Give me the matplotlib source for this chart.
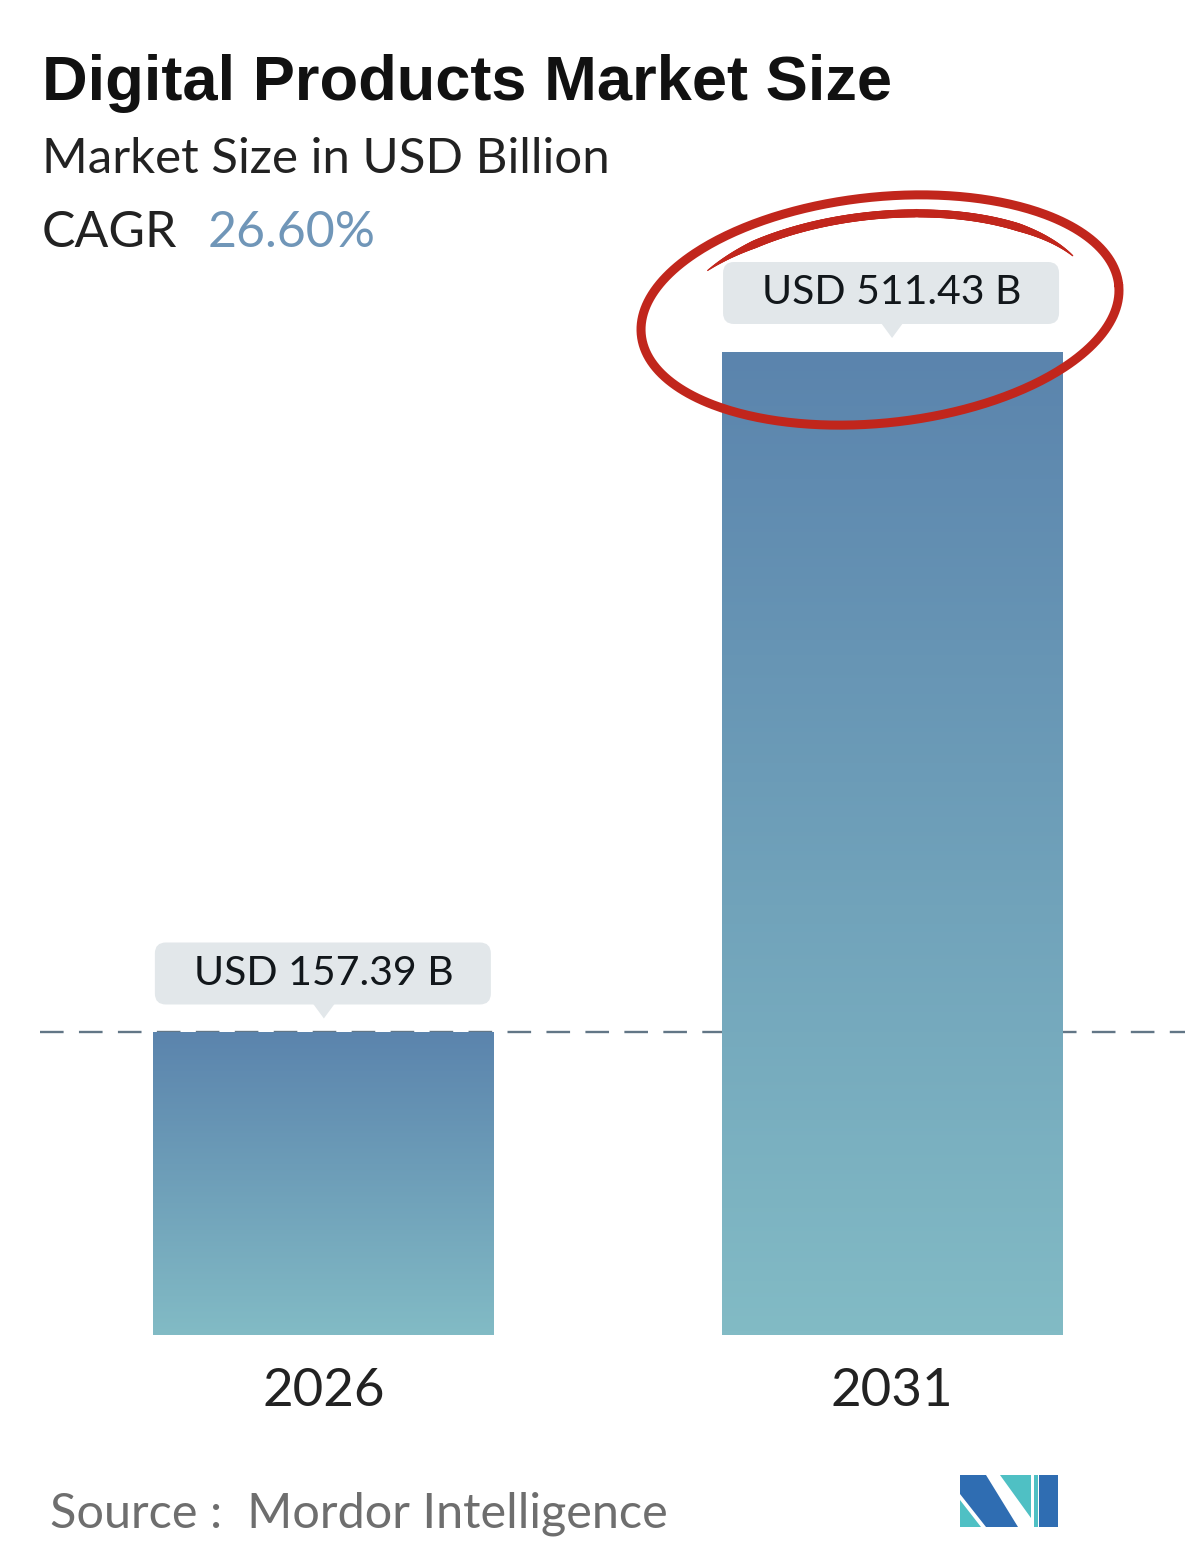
import numpy as np
import matplotlib.pyplot as plt
from matplotlib.patches import FancyBboxPatch, Polygon
from matplotlib.collections import LineCollection
from matplotlib.colors import LinearSegmentedColormap
from matplotlib.transforms import IdentityTransform

# chart data
years = ["2026", "2031"]
values = [157.39, 511.43]
value_labels = ["USD 157.39 B", "USD 511.43 B"]
title = "Digital Products Market Size"
subtitle = "Market Size in USD Billion"
cagr_label = "CAGR"
cagr_value = "26.60%"
source = "Source :  Mordor Intelligence"

W, H = 1200, 1565
BODY = ["Lato", "DejaVu Sans"]
TITLE_FONT = ["Liberation Sans", "DejaVu Sans"]

fig = plt.figure(figsize=(W / 100, H / 100), dpi=100)
ident = IdentityTransform()


def fx(px):
    return px / W


def fy(py):
    return 1 - py / H


# bars: baseline at 1335 px, tallest bar top at 352 px
ax = fig.add_axes([0, fy(1335), 1, (1335 - 250) / H])
x = np.arange(len(years))
bars = ax.bar(x, values, width=0.6, color="none", zorder=2)
cmap = LinearSegmentedColormap.from_list("bar", ["#82bbc5", "#5b84ad"])
grad = np.linspace(0, 1, 256).reshape(-1, 1)
for b in bars:
    x0, w, h = b.get_x(), b.get_width(), b.get_height()
    im = ax.imshow(grad, cmap=cmap, origin="lower", aspect="auto",
                   extent=(x0, x0 + w, 0, h), zorder=2)
    im.set_clip_path(b)

ax.set_xlim(-0.570, 1.542)
ax.set_ylim(0, max(values) * 1085 / 983)
ax.axis("off")

# dashed reference line at the first value
ax.hlines(values[0], -0.50, 1.516, colors="#627686", linewidth=1.7,
          linestyles=(0, (10, 6.5)), zorder=1)

# tooltip boxes above the bars
for xi, v, lab in zip(x, values, value_labels):
    cx, top = ax.transData.transform((xi, v))
    bottom = top + 28
    box = FancyBboxPatch((cx - 169, bottom), 336, 62,
                         boxstyle="round,pad=0,rounding_size=11",
                         facecolor="#e2e7ea", edgecolor="none",
                         transform=ident, clip_on=False, zorder=3)
    fig.add_artist(box)
    tri = Polygon([(cx - 11, bottom + 1), (cx + 11, bottom + 1), (cx, top + 14)],
                  closed=True, facecolor="#e2e7ea", edgecolor="none",
                  transform=ident, zorder=3)
    fig.add_artist(tri)
    fig.text(cx, bottom + 31, lab, transform=ident, ha="center", va="center",
             fontsize=29.5, color="#12171b", family=BODY, zorder=4)

# year labels
for xi, yr in zip(x, years):
    cx, _ = ax.transData.transform((xi, 0))
    fig.text(fx(cx), fy(1406), yr, ha="center", va="baseline",
             fontsize=38, color="#222222", family=BODY)

# hand-drawn red loop round the larger value: closed outer ellipse
# plus a second, tapered stroke across the top
cx_e, cy_e = 880, H - 310
a, bb = 240, 113
rot = np.deg2rad(6)
red = "#c1261c"


def ellipse_pts(theta, scale):
    ex = a * scale * np.cos(theta)
    ey = bb * scale * np.sin(theta)
    px = cx_e + ex * np.cos(rot) - ey * np.sin(rot)
    py = cy_e + ex * np.sin(rot) + ey * np.cos(rot)
    return np.column_stack([px, py])


outer = ellipse_pts(np.linspace(0, 2 * np.pi, 400), np.ones(400))
fig.add_artist(plt.Line2D(outer[:, 0], outer[:, 1], color=red, linewidth=6.5,
                          solid_capstyle="round", transform=ident, zorder=5))

t = np.linspace(0, 1, 300)
theta = np.deg2rad(144) - t * np.deg2rad(124)
scale = 0.862 + 0.013 * t - 0.03 * np.sin(np.pi * t)
inner = ellipse_pts(theta, scale)
segs = np.stack([inner[:-1], inner[1:]], axis=1)
taper = np.clip(np.minimum(t[:-1] / 0.15, (1 - t[:-1]) / 0.2), 0, 1)
lc = LineCollection(segs, colors=red, linewidths=0.8 + 5 * taper,
                    capstyle="round", transform=ident, zorder=5)
fig.add_artist(lc)

# header text
fig.text(fx(42), fy(100), title, ha="left", va="baseline", fontsize=45.5,
         fontweight="bold", color="#111111", family=TITLE_FONT)
fig.text(fx(42), fy(173), subtitle, ha="left", va="baseline", fontsize=35.5,
         color="#222222", family=BODY)
fig.text(fx(42), fy(247), cagr_label, ha="left", va="baseline", fontsize=36,
         color="#222222", family=BODY)
fig.text(fx(208), fy(247), cagr_value, ha="left", va="baseline", fontsize=36,
         color="#7096b8", family=BODY)

# source line
fig.text(fx(50), fy(1528), source, ha="left", va="baseline", fontsize=35,
         color="#6e6e6e", family=BODY)

# logo
teal, blue = "#4fc0c4", "#2f6db2"
logo = [
    ([(960, 1500), (960, 1527), (981, 1527)], teal),
    ([(960, 1475), (986, 1475), (1018, 1527), (986, 1527), (960, 1494)], blue),
    ([(1000, 1475), (1031, 1475), (1031, 1518)], teal),
    ([(1034, 1475), (1038, 1475), (1038, 1527), (1034, 1527)], teal),
    ([(1039, 1475), (1058, 1475), (1058, 1527), (1039, 1527)], blue),
]
for poly, col in logo:
    fig.add_artist(Polygon([(p[0], H - p[1]) for p in poly], closed=True,
                           facecolor=col, edgecolor="none", transform=ident))

fig.savefig("out.png", dpi=100)
